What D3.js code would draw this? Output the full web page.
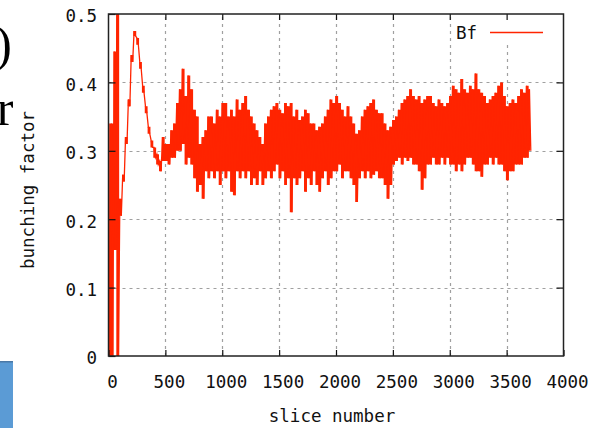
<!DOCTYPE html>
<html>
<head>
<meta charset="utf-8">
<script src="https://cdn.jsdelivr.net/npm/d3@7"></script>
<style>
  html, body { margin: 0; padding: 0; background: #fff; }
  svg { display: block; }
</style>
</head>
<body>
<svg id="chart" width="601" height="428"></svg>
<script>
// ---- data ----
const xTicks = [0, 500, 1000, 1500, 2000, 2500, 3000, 3500, 4000];
const xTickLabels = ["0", "500", "1000", "1500", "2000", "2500", "3000", "3500", "4000"];
const yTicks = [0, 0.1, 0.2, 0.3, 0.4, 0.5];
const yTickLabels = ["0", "0.1", "0.2", "0.3", "0.4", "0.5"];
const seriesName = "Bf";
const xLabel = "slice number";
const yLabel = "bunching factor";
const sliceStep = 25; // samples every 25 slices, upper then lower excursion
// upper excursion of the bunching factor in each 25-slice window
const bfHigh = [
  0.34, 0.34, 0.445, 0.56, 0.23, 0.265, 0.32, 0.375, 0.44, 0.475,
  0.465, 0.43, 0.395, 0.365, 0.335, 0.315, 0.305, 0.295, 0.285, 0.32,
  0.31, 0.31, 0.33, 0.34, 0.37, 0.39, 0.42, 0.38, 0.41, 0.39,
  0.36, 0.35, 0.31, 0.32, 0.33, 0.35, 0.35, 0.34, 0.36, 0.35,
  0.37, 0.37, 0.35, 0.36, 0.35, 0.375, 0.36, 0.37, 0.38, 0.36,
  0.35, 0.34, 0.33, 0.32, 0.31, 0.34, 0.35, 0.36, 0.365, 0.37,
  0.36, 0.355, 0.37, 0.365, 0.37, 0.35, 0.36, 0.345, 0.35, 0.36,
  0.355, 0.34, 0.34, 0.33, 0.335, 0.34, 0.35, 0.36, 0.375, 0.37,
  0.38, 0.37, 0.36, 0.35, 0.365, 0.35, 0.34, 0.325, 0.33, 0.35,
  0.36, 0.365, 0.37, 0.375, 0.36, 0.355, 0.355, 0.34, 0.33, 0.335,
  0.345, 0.35, 0.36, 0.37, 0.375, 0.38, 0.39, 0.38, 0.375, 0.38,
  0.37, 0.375, 0.38, 0.38, 0.37, 0.365, 0.375, 0.37, 0.365, 0.37,
  0.38, 0.395, 0.39, 0.385, 0.405, 0.39, 0.385, 0.395, 0.39, 0.413,
  0.39, 0.385, 0.38, 0.37, 0.375, 0.38, 0.385, 0.395, 0.40, 0.38,
  0.365, 0.37, 0.375, 0.37, 0.38, 0.39, 0.385, 0.395, 0.39
];
// lower excursion of the bunching factor in each 25-slice window
const bfLow = [
  0.0, 0.0, 0.155, 0.0, 0.205, 0.255, 0.31, 0.365, 0.43, 0.468,
  0.455, 0.42, 0.385, 0.355, 0.325, 0.305, 0.29, 0.28, 0.27, 0.285,
  0.285, 0.28, 0.29, 0.29, 0.30, 0.30, 0.31, 0.28, 0.29, 0.28,
  0.26, 0.24, 0.25, 0.23, 0.27, 0.26, 0.27, 0.26, 0.27, 0.25,
  0.27, 0.26, 0.27, 0.24, 0.235, 0.27, 0.26, 0.27, 0.26, 0.27,
  0.25, 0.26, 0.25, 0.27, 0.25, 0.26, 0.27, 0.26, 0.27, 0.28,
  0.26, 0.27, 0.25, 0.26, 0.21, 0.26, 0.25, 0.26, 0.27, 0.24,
  0.26, 0.25, 0.27, 0.25, 0.24, 0.26, 0.27, 0.25, 0.26, 0.27,
  0.27, 0.28, 0.26, 0.27, 0.27, 0.26, 0.25, 0.225, 0.26, 0.27,
  0.26, 0.27, 0.26, 0.265, 0.27, 0.26, 0.26, 0.25, 0.23, 0.25,
  0.28, 0.285, 0.29, 0.28, 0.29, 0.285, 0.29, 0.28, 0.28, 0.27,
  0.243, 0.26, 0.28, 0.28, 0.29, 0.28, 0.28, 0.29, 0.28, 0.29,
  0.28, 0.28, 0.27, 0.28, 0.27, 0.28, 0.29, 0.29, 0.28, 0.27,
  0.27, 0.262, 0.28, 0.28, 0.29, 0.28, 0.29, 0.28, 0.28, 0.27,
  0.257, 0.27, 0.27, 0.28, 0.28, 0.28, 0.29, 0.29, 0.30
];

// ---- layout ----
const plot = { left: 108.5, right: 563.5, top: 14, bottom: 356 };
const red = "#ff2400";
const mono = "'DejaVu Sans Mono', monospace";
const fs = 17.5;

const svg = d3.select("#chart");

// slide remnants on the left
svg.append("text").attr("x", 12).attr("y", 61)
  .attr("text-anchor", "end")
  .style("font-family", "'Liberation Serif', 'Times New Roman', serif")
  .style("font-size", "50px").attr("fill", "#000").text(")");
svg.append("text").attr("x", 13.5).attr("y", 125)
  .attr("text-anchor", "end")
  .style("font-family", "'Liberation Serif', 'Times New Roman', serif")
  .style("font-size", "50px").attr("fill", "#000").text("r");
svg.append("rect").attr("x", -1).attr("y", 361).attr("width", 14).attr("height", 70)
  .attr("fill", "#5b9bd5");
svg.append("rect").attr("x", -1).attr("y", 361).attr("width", 14).attr("height", 1.5)
  .attr("fill", "#4a78a6");

const x = d3.scaleLinear().domain([0, 4000]).range([plot.left, plot.right]);
const y = d3.scaleLinear().domain([0, 0.5]).range([plot.bottom, plot.top]);

// grid
const grid = svg.append("g").attr("stroke", "#a0a0a0").attr("stroke-width", 1.2)
  .attr("stroke-dasharray", "3,4");
grid.selectAll("line.v").data(xTicks.slice(1, -1)).join("line")
  .attr("x1", d => Math.round(x(d)) + 0.5).attr("x2", d => Math.round(x(d)) + 0.5)
  .attr("y1", plot.bottom).attr("y2", plot.top);
grid.selectAll("line.h").data(yTicks.slice(1, -1)).join("line")
  .attr("y1", d => Math.round(y(d)) + 0.5).attr("y2", d => Math.round(y(d)) + 0.5)
  .attr("x1", plot.left).attr("x2", plot.right);

// legend background (key area hides grid)
svg.append("rect").attr("x", 453).attr("y", plot.top + 2).attr("width", 96).attr("height", 27)
  .attr("fill", "#fff");

// data
const windows = bfHigh.map((v, i) => ({ s: i * sliceStep, hi: v, lo: bfLow[i] }));
const pts = [];
windows.forEach(w => {
  pts.push([w.s, w.hi]);
  pts.push([w.s + sliceStep / 2, w.lo]);
});
svg.append("clipPath").attr("id", "clip").append("rect")
  .attr("x", plot.left).attr("y", plot.top)
  .attr("width", plot.right - plot.left).attr("height", plot.bottom - plot.top);
const dataG = svg.append("g").attr("clip-path", "url(#clip)");
dataG.append("path").datum(windows)
  .attr("fill", red).attr("stroke", "none")
  .attr("d", d3.area().curve(d3.curveStep)
    .x(d => x(d.s + sliceStep / 4)).y0(d => y(d.lo)).y1(d => y(d.hi)));
dataG.append("path").datum(pts)
  .attr("fill", "none").attr("stroke", red).attr("stroke-width", 1.3)
  .attr("stroke-linejoin", "miter")
  .attr("d", d3.line().x(d => x(d[0])).y(d => y(d[1])));

// axes (ticks inward, mirrored)
function styleAxis(g) {
  g.select(".domain").remove();
  g.selectAll(".tick line").attr("stroke", "#111").attr("stroke-width", 1.2);
  g.selectAll(".tick text").attr("fill", "#111")
    .style("font-family", mono).style("font-size", fs + "px");
}
svg.append("g").attr("transform", `translate(0,${plot.bottom})`)
  .call(d3.axisBottom(x).tickValues(xTicks).tickSizeInner(-6).tickSizeOuter(0)
    .tickPadding(20).tickFormat((d, i) => xTickLabels[i]))
  .call(styleAxis)
  .call(g => g.selectAll(".tick text").attr("dx", 3.5));
svg.append("g").attr("transform", `translate(0,${plot.top})`)
  .call(d3.axisTop(x).tickValues(xTicks.slice(1, -1)).tickSizeInner(-6).tickSizeOuter(0)
    .tickFormat(""))
  .call(styleAxis);
svg.append("g").attr("transform", `translate(${plot.left},0)`)
  .call(d3.axisLeft(y).tickValues(yTicks).tickSizeInner(-7).tickSizeOuter(0)
    .tickPadding(11.5).tickFormat((d, i) => yTickLabels[i]))
  .call(styleAxis)
  .call(g => g.selectAll(".tick text").attr("dy", "0.45em"));
svg.append("g").attr("transform", `translate(${plot.right},0)`)
  .call(d3.axisRight(y).tickValues(yTicks.slice(1, -1)).tickSizeInner(-7).tickSizeOuter(0)
    .tickFormat(""))
  .call(styleAxis);

// border
svg.append("rect").attr("x", plot.left).attr("y", plot.top)
  .attr("width", plot.right - plot.left).attr("height", plot.bottom - plot.top)
  .attr("fill", "none").attr("stroke", "#222").attr("stroke-width", 1.5);

// legend
svg.append("text").attr("x", 477).attr("y", 38.5).attr("text-anchor", "end")
  .style("font-family", mono).style("font-size", fs + "px").attr("fill", "#111")
  .text(seriesName);
svg.append("line").attr("x1", 490).attr("x2", 543).attr("y1", 32.5).attr("y2", 32.5)
  .attr("stroke", red).attr("stroke-width", 1.5);

// axis titles
svg.append("text").attr("x", 332).attr("y", 422).attr("text-anchor", "middle")
  .style("font-family", mono).style("font-size", fs + "px").attr("fill", "#111")
  .text(xLabel);
svg.append("text").attr("transform", "translate(34,190) rotate(-90)")
  .attr("text-anchor", "middle")
  .style("font-family", mono).style("font-size", fs + "px").attr("fill", "#111")
  .text(yLabel);
</script>
</body>
</html>
